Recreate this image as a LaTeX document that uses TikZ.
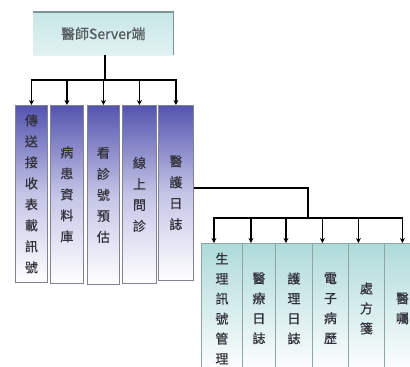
\documentclass[tikz,border=0pt]{standalone}
\usepackage{fontspec}
\newfontfamily\cjk[FakeBold=0.6]{Noto Sans CJK TC}
\usetikzlibrary{arrows.meta,calc}
\definecolor{blueA}{RGB}{84,84,176}
\definecolor{blueB}{RGB}{196,196,230}
\definecolor{tealA}{RGB}{175,218,218}
\definecolor{tealB}{RGB}{225,242,242}
\definecolor{tealTop}{RGB}{200,230,230}
\definecolor{tealEdge}{RGB}{120,150,150}
\definecolor{colEdge}{RGB}{130,130,150}
\definecolor{colEdgeB}{RGB}{140,165,165}
\definecolor{txt}{RGB}{50,50,60}
\tikzset{
  x=1pt,y=-1pt,
  upcol/.style={rectangle,draw=colEdge,line width=0.8pt,top color=blueA,bottom color=white,middle color=blueB,
    inner sep=0pt,align=center,font=\cjk\fontsize{13}{21}\selectfont,text=txt,anchor=north west},
  lowcol/.style={rectangle,draw=colEdgeB,line width=0.9pt,top color=tealA,bottom color=white,
    inner sep=0pt,align=center,font=\cjk\fontsize{13}{20}\selectfont,text=txt,anchor=north west},
  conn/.style={line width=1.6pt,black},
  arr/.style={conn,-{Stealth[length=5pt,width=5pt]}},
}
\begin{document}
\begin{tikzpicture}
\useasboundingbox (0,0) rectangle (410,367);
\clip (0,0) rectangle (410,367);
% top box
\node[rectangle,inner sep=0pt,minimum width=140pt,minimum height=43pt,top color=tealTop,bottom color=tealB,
  font=\cjk\fontsize{14}{16}\selectfont,text={rgb,255:red,85;green,90;blue,95},anchor=north west] (top) at (33,12) {醫師Server端};
\draw[tealEdge,line width=1.6pt] (top.north west) -- (top.north east) -- (top.south east);
% upper columns
\node[upcol,minimum width=32pt,minimum height=177pt] (c1) at (15,105) {傳\\送\\接\\收\\表\\載\\訊\\號};
\node[upcol,minimum width=33pt,minimum height=178pt] (c2) at (50,105) {病\\患\\資\\料\\庫};
\node[upcol,minimum width=32pt,minimum height=179pt] (c3) at (87,105) {看\\診\\號\\預\\估};
\node[upcol,minimum width=34pt,minimum height=178pt] (c4) at (122,105) {線\\上\\問\\診};
\node[upcol,minimum width=35pt,minimum height=175pt] (c5) at (158,105) {醫\\護\\日\\誌};
% lower columns
\node[lowcol,minimum width=41pt,minimum height=130pt] (d1) at (201,243) {生\\理\\訊\\號\\管\\理};
\node[lowcol,minimum width=33pt,minimum height=130pt] (d2) at (242,243) {醫\\療\\日\\誌};
\node[lowcol,minimum width=37pt,minimum height=130pt] (d3) at (275,243) {護\\理\\日\\誌};
\node[lowcol,minimum width=36pt,minimum height=130pt] (d4) at (312,243) {電\\子\\病\\歷};
\node[lowcol,minimum width=36pt,minimum height=130pt] (d5) at (348,243) {處\\方\\箋};
\node[lowcol,minimum width=36pt,minimum height=130pt] (d6) at (384,243) {醫\\囑};
% upper connectors
\coordinate (bus1) at (105,80);
\draw[conn] (top.south -| bus1) -- (bus1);
\draw[conn,line cap=rect] (bus1 -| c1) -- (bus1 -| c5);
\foreach \c in {c1,c2,c3,c4,c5}{
  \draw[arr] (bus1 -| \c) -- (\c.north);
}
% lower connectors
\coordinate (j) at (308,188);
\coordinate (bus2) at (308,218);
\draw[conn] (c5.east |- j) -- (j) -- (bus2);
\foreach \d in {d1,d2,d3,d4,d5}{
  \coordinate (\d t) at ([xshift=-8pt]\d.north);
}
\coordinate (d6t) at (d6.north);
\draw[conn,line cap=rect] (bus2 -| d1t) -- (bus2 -| d6t);
\foreach \d in {d1,d2,d3,d4,d5,d6}{
  \draw[arr] (bus2 -| \d t) -- (\d t);
}
\end{tikzpicture}
\end{document}
